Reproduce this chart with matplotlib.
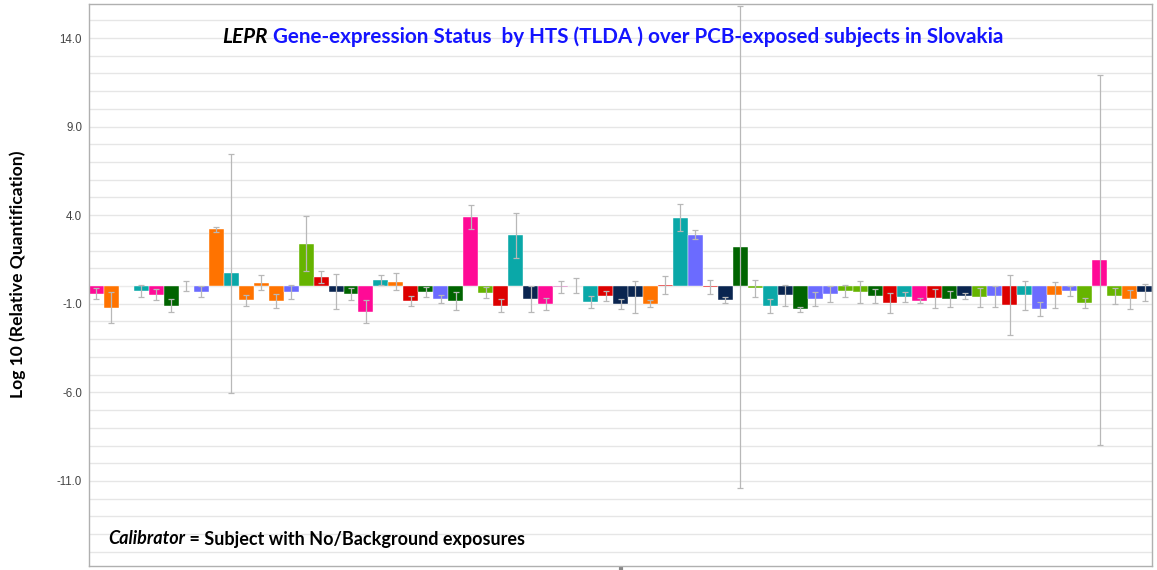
import numpy as np
import matplotlib
matplotlib.use("Agg")
import matplotlib.pyplot as plt
from matplotlib.ticker import MultipleLocator, FixedLocator

# log10 RQ per subject
rq_log10 = [
    -0.43, -1.22, 0.00, -0.28, -0.49, -1.10, 0.00, -0.32, 3.20, 0.72,
    -0.80, 0.20, -0.82, -0.35, 2.38, 0.52, -0.31, -0.44, -1.44, 0.33,
    0.24, -0.84, -0.33, -0.72, -0.85, 3.90, -0.38, -1.11, 2.86, -0.73,
    -1.02, -0.05, 0.03, -0.92, -0.56, -1.02, -0.60, -1.00, 0.06, 3.86,
    2.90, -0.05, -0.77, 2.22, -0.12, -1.11, -0.52, -1.32, -0.72, -0.43,
    -0.28, -0.34, -0.56, -0.96, -0.62, -0.83, -0.70, -0.72, -0.58, -0.64,
    -0.58, -1.07, -0.53, -1.30, -0.49, -0.28, -0.96, 1.49, -0.56, -0.75,
    -0.36,
]
rq_err = [
    0.30, 0.87, np.nan, 0.35, 0.30, 0.35, 0.27, 0.30, 0.15, 6.73,
    0.30, 0.40, 0.40, 0.40, 1.55, 0.35, 1.00, 0.35, 0.65, 0.28,
    0.48, 0.30, 0.30, 0.22, 0.50, 0.68, 0.30, 0.38, 1.28, 0.75,
    0.33, 0.33, 0.40, 0.34, 0.30, 0.27, 0.90, 0.20, 0.48, 0.77,
    0.25, 0.40, 0.17, 13.60, 0.48, 0.40, 0.60, 0.15, 0.40, 0.45,
    0.34, 0.60, 0.42, 0.57, 0.28, 0.15, 0.52, 0.45, 0.17, 0.55,
    0.60, 1.72, 0.81, 0.38, 0.74, 0.28, 0.30, 10.45, 0.47, 0.53,
    0.48,
]
# sample group of each bar
bar_group = [
    "pk", "or", "tl", "tl", "pk", "dg", "bv", "bv", "or", "tl",
    "or", "or", "or", "bv", "lg", "rd", "nv", "dg", "pk", "tl",
    "or", "rd", "dg", "bv", "dg", "pk", "lg", "rd", "tl", "nv",
    "pk", "mv", "lg", "tl", "rd", "nv", "nv", "or", "rd", "tl",
    "bv", "rd", "nv", "dg", "lg", "tl", "nv", "dg", "bv", "bv",
    "lg", "lg", "dg", "rd", "tl", "pk", "rd", "dg", "nv", "lg",
    "bv", "rd", "tl", "bv", "or", "bv", "lg", "pk", "lg", "or",
    "nv",
]
y_ticks = [-11.0, -6.0, -1.0, 4.0, 9.0, 14.0]

palette = {
    "pk": "#ff0a96", "or": "#ff7300", "tl": "#0aa8a8", "dg": "#006400",
    "bv": "#6b6bff", "lg": "#66b400", "rd": "#dd0000", "nv": "#0a2550",
    "mv": "#d070b8",
}

fig = plt.figure(figsize=(11.57, 5.70), dpi=100)
ax = fig.add_axes([89 / 1157, 4 / 570, 1063 / 1157, 562 / 570])

x = np.arange(len(rq_log10))
cols = [palette[g] for g in bar_group]
ax.bar(x, rq_log10, width=1.0, color=cols, edgecolor="white", linewidth=0.3, zorder=2)
ax.errorbar(x, rq_log10, yerr=rq_err, fmt="none", ecolor="#b8b8b8",
            elinewidth=0.9, capsize=2, capthick=0.9, zorder=3)

ax.set_xlim(-0.5, len(rq_log10) - 0.5)
ax.set_ylim(-15.8, 15.92)
ax.yaxis.set_major_locator(FixedLocator(y_ticks))
ax.yaxis.set_minor_locator(MultipleLocator(1.0))
ax.set_yticklabels([f"{v:.1f}" for v in y_ticks], fontsize=8.3,
                   family="Liberation Sans", color="#444444")
ax.tick_params(axis="y", which="both", length=0, pad=5)
ax.grid(True, axis="y", which="both", color="#e6e6e6", linewidth=1.0, zorder=0)
ax.set_axisbelow(True)
ax.set_xticks([35])
ax.set_xticklabels([""])
ax.tick_params(axis="x", length=3, width=3, color="#888888")
for s in ax.spines.values():
    s.set_color("#b0b0b0")
    s.set_linewidth(1.0)

fnt = "Lato"
fig.text(18 / 1157, 1 - 274 / 570, "Log 10 (Relative Quantification)", rotation=90,
         ha="center", va="center", fontsize=12.6, fontweight="bold", family=fnt)

t1 = ax.text((222 - 89) / 1063, (566 - 37) / 562, "LEPR", transform=ax.transAxes,
             fontsize=14.9, fontweight="bold", style="italic", family=fnt,
             va="center", ha="left", color="black")
ax.annotate(" Gene-expression Status  by HTS (TLDA ) over PCB-exposed subjects in Slovakia",
            xy=(1, 0), xycoords=t1, va="bottom", ha="left", fontsize=14.9,
            fontweight="bold", family=fnt, color="#1414ff")

t2 = ax.text((108 - 89) / 1063, (566 - 539) / 562, "Calibrator", transform=ax.transAxes,
             fontsize=13.0, fontweight="bold", style="italic", family=fnt,
             va="center", ha="left", color="black")
ax.annotate(" = Subject with No/Background exposures", xy=(1, 0), xycoords=t2,
            va="bottom", ha="left", fontsize=13.0, fontweight="bold", family=fnt,
            color="black")

fig.savefig("out.png", dpi=100)
